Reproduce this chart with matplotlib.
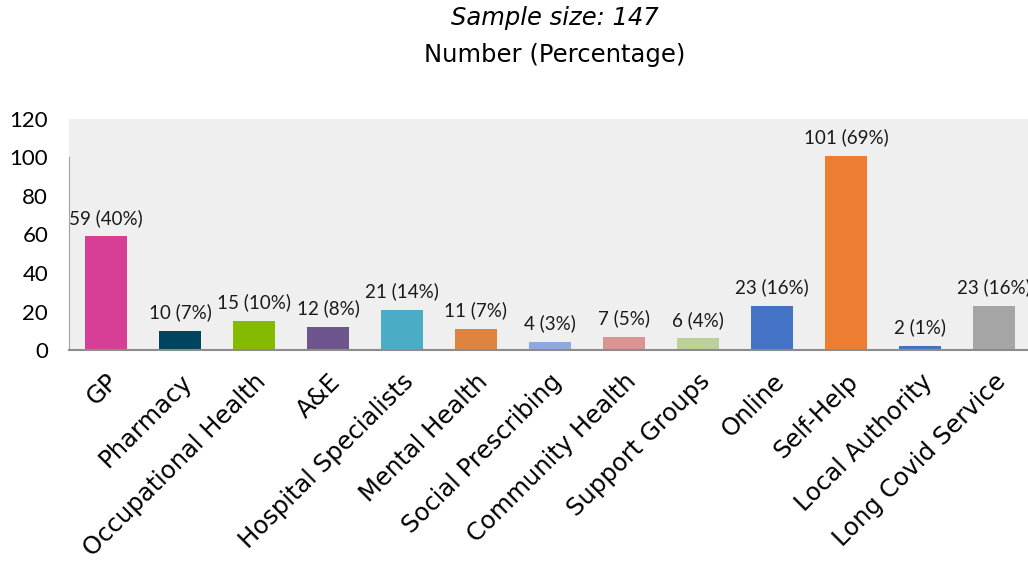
import matplotlib
matplotlib.use("Agg")
import matplotlib.pyplot as plt

categories = ["GP", "Pharmacy", "Occupational Health", "A&E", "Hospital Specialists",
              "Mental Health", "Social Prescribing", "Community Health", "Support Groups",
              "Online", "Self-Help", "Local Authority", "Long Covid Service"]
counts = [59, 10, 15, 12, 21, 11, 4, 7, 6, 23, 101, 2, 23]
percentages = [40, 7, 10, 8, 14, 7, 3, 5, 4, 16, 69, 1, 16]
colors = ["#D63F95", "#00445F", "#84BA00", "#6E548D", "#4BACC6", "#DD8540",
          "#8EA9DB", "#D99594", "#BBD197", "#4472C4", "#ED7D31", "#4472C4", "#A5A5A5"]
y_ticks = [0, 20, 40, 60, 80, 100, 120]

W, H = 1028, 562
fig = plt.figure(figsize=(W / 100, H / 100), dpi=100)
left, right, bottom, top = 69, 1031, 350, 119
ax = fig.add_axes([left / W, (H - bottom) / H, (right - left) / W, (bottom - top) / H])
ax.set_facecolor("#EFEFEF")

x = list(range(len(categories)))
ax.bar(x, counts, width=0.58, color=colors, zorder=2)
ax.set_xlim(-0.5, len(categories) - 0.5)
ax.set_ylim(0, 120)

for xi, c, p in zip(x, counts, percentages):
    ax.annotate(f"{c} ({p}%)", (xi, c), xytext=(0, 7), textcoords="offset points",
                ha="center", va="bottom", fontsize=13.5, family="Lato", color="#1A1A1A")

ax.set_yticks(y_ticks)
ax.set_yticklabels([str(t) for t in y_ticks], fontsize=16, family="Lato")
ax.tick_params(axis="y", length=0, pad=15)
ax.set_xticks(x)
ax.set_xticklabels(categories, rotation=45, ha="right", rotation_mode="anchor",
                   fontsize=17.5, family="DejaVu Sans")
ax.tick_params(axis="x", length=0, pad=14)

for s in ["top", "right"]:
    ax.spines[s].set_visible(False)
ax.spines["left"].set_color("#A0A0A0")
ax.spines["left"].set_bounds(0, 100.5)
ax.spines["bottom"].set_color("#8C8C8C")
ax.spines["bottom"].set_linewidth(1.5)

fig.text(555 / W, 1 - 18 / H, "Sample size: 147", ha="center", va="center",
         fontsize=17.5, style="italic", family="DejaVu Sans")
fig.text(555 / W, 1 - 55 / H, "Number (Percentage)", ha="center", va="center",
         fontsize=17.5, family="DejaVu Sans")

fig.savefig("out.png", dpi=100)
